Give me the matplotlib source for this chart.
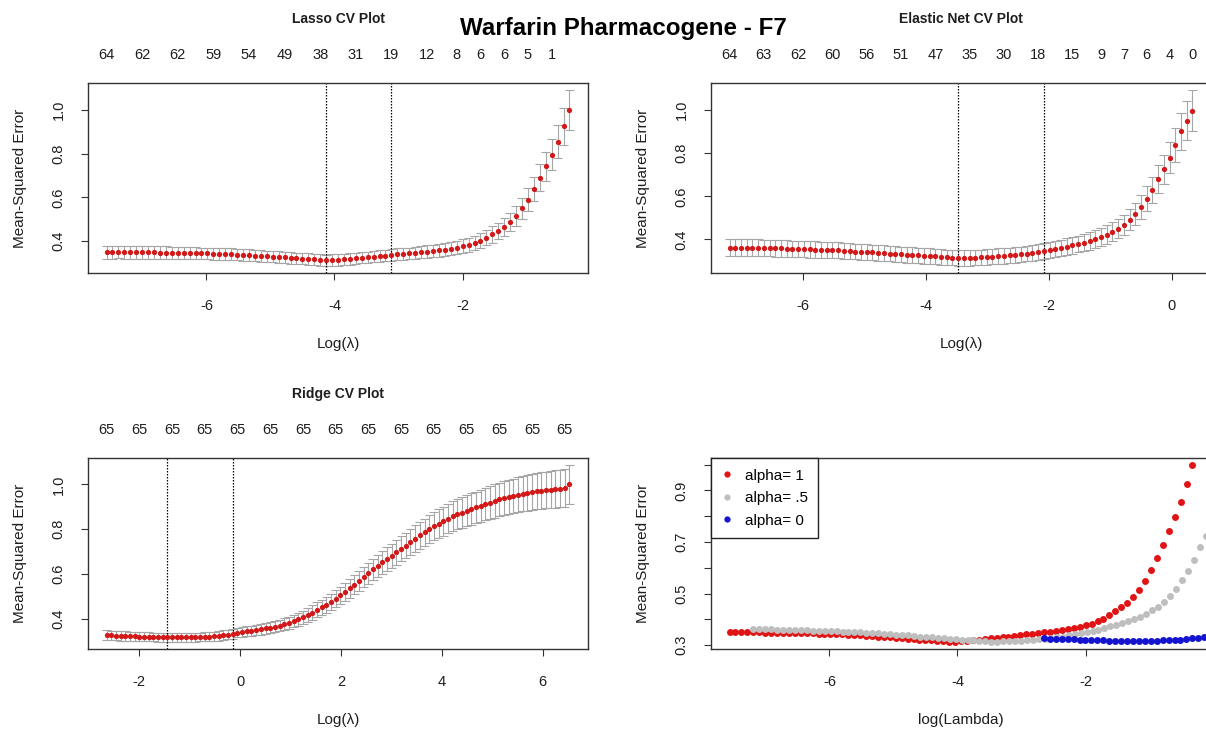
import numpy as np
import matplotlib.pyplot as plt
from matplotlib.ticker import MultipleLocator, FixedLocator, FixedFormatter

plt.rcParams['font.family'] = ['Liberation Sans', 'DejaVu Sans']
plt.rcParams['axes.unicode_minus'] = False

# log(lambda) grids of the three cv fits (glmnet grids are even in log scale)
lasso_loglam = np.linspace(-7.56, -0.33, 79)
enet_loglam = np.linspace(-7.19, 0.34, 82)
ridge_loglam = np.linspace(-2.65, 6.53, 100)

# cross-validated mean-squared error, alpha = 1
lasso_cvm = [0.350, 0.350, 0.351, 0.350, 0.350, 0.350, 0.349, 0.349, 0.349, 0.348,
             0.348, 0.347, 0.347, 0.346, 0.346, 0.345, 0.344, 0.344, 0.343, 0.342,
             0.341, 0.340, 0.339, 0.337, 0.336, 0.334, 0.333, 0.331, 0.330, 0.328,
             0.326, 0.324, 0.322, 0.320, 0.319, 0.317, 0.315, 0.313, 0.314, 0.315,
             0.317, 0.319, 0.322, 0.325, 0.327, 0.330, 0.332, 0.334, 0.336, 0.340,
             0.342, 0.344, 0.347, 0.350, 0.353, 0.356, 0.359, 0.362, 0.366, 0.371,
             0.377, 0.384, 0.393, 0.403, 0.416, 0.431, 0.447, 0.465, 0.488, 0.516,
             0.550, 0.590, 0.638, 0.690, 0.742, 0.795, 0.855, 0.925, 0.998]
lasso_sd = [0.029, 0.029, 0.029, 0.029, 0.029, 0.029, 0.029, 0.029, 0.028, 0.028,
            0.028, 0.028, 0.028, 0.028, 0.028, 0.028, 0.027, 0.027, 0.027, 0.027,
            0.027, 0.027, 0.027, 0.027, 0.027, 0.026, 0.026, 0.026, 0.026, 0.026,
            0.026, 0.026, 0.026, 0.026, 0.026, 0.026, 0.026, 0.026, 0.026, 0.026,
            0.026, 0.026, 0.026, 0.026, 0.026, 0.026, 0.026, 0.026, 0.027, 0.027,
            0.027, 0.027, 0.027, 0.028, 0.028, 0.028, 0.029, 0.029, 0.030, 0.030,
            0.031, 0.032, 0.033, 0.034, 0.035, 0.037, 0.038, 0.040, 0.042, 0.045,
            0.048, 0.052, 0.056, 0.061, 0.066, 0.071, 0.077, 0.084, 0.092]
lasso_nz_idx = [0, 6, 12, 18, 24, 30, 36, 42, 48, 54, 59, 63, 67, 71, 75]
lasso_nz = ['64', '62', '62', '59', '54', '49', '38', '31', '19', '12', '8', '6', '6', '5', '1']

# alpha = 0.5
enet_cvm = [0.362, 0.362, 0.362, 0.362, 0.361, 0.361, 0.360, 0.360, 0.359, 0.358,
            0.357, 0.357, 0.356, 0.355, 0.354, 0.353, 0.352, 0.351, 0.350, 0.349,
            0.347, 0.346, 0.344, 0.343, 0.341, 0.340, 0.338, 0.336, 0.334, 0.333,
            0.331, 0.329, 0.327, 0.326, 0.324, 0.322, 0.321, 0.319, 0.317, 0.316,
            0.313, 0.314, 0.315, 0.316, 0.317, 0.318, 0.320, 0.322, 0.324, 0.326,
            0.328, 0.331, 0.334, 0.338, 0.342, 0.346, 0.351, 0.356, 0.361, 0.367,
            0.373, 0.379, 0.385, 0.393, 0.401, 0.411, 0.422, 0.435, 0.450, 0.468,
            0.492, 0.519, 0.551, 0.589, 0.631, 0.680, 0.725, 0.779, 0.837, 0.901,
            0.951, 0.997]
enet_sd = [0.040, 0.040, 0.040, 0.040, 0.040, 0.039, 0.039, 0.039, 0.039, 0.039,
           0.039, 0.038, 0.038, 0.038, 0.038, 0.038, 0.038, 0.037, 0.037, 0.037,
           0.037, 0.037, 0.037, 0.037, 0.036, 0.036, 0.036, 0.036, 0.036, 0.036,
           0.036, 0.036, 0.036, 0.036, 0.036, 0.036, 0.036, 0.036, 0.036, 0.036,
           0.036, 0.036, 0.036, 0.036, 0.036, 0.036, 0.036, 0.036, 0.036, 0.036,
           0.036, 0.036, 0.036, 0.037, 0.037, 0.037, 0.037, 0.038, 0.038, 0.038,
           0.039, 0.039, 0.040, 0.040, 0.041, 0.042, 0.043, 0.044, 0.045, 0.047,
           0.049, 0.051, 0.054, 0.057, 0.060, 0.064, 0.068, 0.073, 0.079, 0.085,
           0.090, 0.096]
enet_nz_idx = [0, 6, 12, 18, 24, 30, 36, 42, 48, 54, 60, 65, 69, 73, 77, 81]
enet_nz = ['64', '63', '62', '60', '56', '51', '47', '35', '30', '18', '15', '9', '7', '6', '4', '0']

# alpha = 0
ridge_cvm = [0.327, 0.326, 0.325, 0.324, 0.324, 0.323, 0.322, 0.321, 0.321, 0.320,
             0.319, 0.318, 0.318, 0.317, 0.317, 0.317, 0.317, 0.317, 0.318, 0.318,
             0.319, 0.320, 0.321, 0.322, 0.324, 0.327, 0.330, 0.333, 0.338, 0.341,
             0.344, 0.347, 0.350, 0.353, 0.357, 0.361, 0.365, 0.370, 0.376, 0.383,
             0.390, 0.398, 0.406, 0.416, 0.428, 0.440, 0.451, 0.462, 0.474, 0.490,
             0.505, 0.521, 0.537, 0.553, 0.570, 0.587, 0.604, 0.621, 0.637, 0.652,
             0.667, 0.682, 0.697, 0.712, 0.727, 0.742, 0.758, 0.772, 0.786, 0.800,
             0.813, 0.825, 0.836, 0.847, 0.857, 0.866, 0.874, 0.882, 0.890, 0.897,
             0.904, 0.912, 0.919, 0.926, 0.933, 0.939, 0.944, 0.949, 0.954, 0.958,
             0.962, 0.966, 0.969, 0.972, 0.975, 0.977, 0.979, 0.981, 0.983, 1.000]
ridge_sd = [0.021, 0.021, 0.021, 0.021, 0.021, 0.020, 0.020, 0.020, 0.020, 0.020,
            0.020, 0.020, 0.020, 0.020, 0.020, 0.020, 0.020, 0.020, 0.020, 0.020,
            0.020, 0.020, 0.020, 0.020, 0.021, 0.021, 0.021, 0.021, 0.021, 0.022,
            0.022, 0.022, 0.023, 0.023, 0.024, 0.024, 0.025, 0.025, 0.026, 0.027,
            0.028, 0.029, 0.030, 0.031, 0.032, 0.033, 0.034, 0.035, 0.036, 0.038,
            0.039, 0.040, 0.042, 0.043, 0.044, 0.046, 0.047, 0.048, 0.050, 0.051,
            0.052, 0.053, 0.055, 0.056, 0.057, 0.058, 0.059, 0.060, 0.061, 0.062,
            0.063, 0.064, 0.065, 0.066, 0.067, 0.067, 0.068, 0.069, 0.070, 0.071,
            0.071, 0.072, 0.073, 0.074, 0.074, 0.075, 0.076, 0.077, 0.077, 0.078,
            0.079, 0.079, 0.080, 0.081, 0.081, 0.082, 0.083, 0.084, 0.085, 0.086]
ridge_nz_idx = list(range(0, 99, 7))
ridge_nz = ['65'] * 15

W, H = 1206, 732
FS = 10.5
RED = '#d21818'
INK = '#1e1e1e'

fig = plt.figure(figsize=(W / 100, H / 100), dpi=100)


def box(l, t, r, b):
    # pixel box -> figure fraction (right column runs past the cropped edge)
    return [l / W, 1 - b / H, (r - l) / W, (b - t) / H]


def r_style(ax, xlabel):
    for s in ax.spines.values():
        s.set_color('#333333')
        s.set_linewidth(1)
    ax.tick_params(direction='out', length=5, width=0.8, color='#333333',
                   labelsize=FS, labelcolor=INK)
    ax.tick_params(axis='x', pad=14)
    ax.tick_params(axis='y', pad=11)
    for lab in ax.get_yticklabels():
        lab.set_rotation(90)
        lab.set_va('center')
    ax.set_xlabel(xlabel, fontsize=FS + 0.5, color=INK, labelpad=17)
    ax.set_ylabel('Mean-Squared Error', fontsize=FS + 0.5, color=INK, labelpad=18)


def cv_panel(pos, x, cvm, sd, nz_idx, nz, title):
    ax = fig.add_axes(pos)
    cvm = np.asarray(cvm)
    sd = np.asarray(sd)
    up, lo = cvm + sd, cvm - sd
    barw = 0.01 * (x.max() - x.min())
    ax.vlines(x, lo, up, color='#a6a6a6', lw=0.8)
    ax.hlines(up, x - barw, x + barw, color='#a6a6a6', lw=0.8)
    ax.hlines(lo, x - barw, x + barw, color='#a6a6a6', lw=0.8)
    ax.plot(x, cvm, 'o', color=RED, ms=3.8, mec='none', zorder=3)
    # lambda.min and lambda.1se
    imin = int(np.argmin(cvm))
    i1se = int(np.max(np.where(cvm <= cvm[imin] + sd[imin])[0]))
    for i in (imin, i1se):
        ax.axvline(x[i], color='black', lw=0.9, ls=(0, (1.2, 1.2)))
    rx = x.max() - x.min()
    ry = up.max() - lo.min()
    ax.set_xlim(x.min() - 0.04 * rx, x.max() + 0.04 * rx)
    ax.set_ylim(lo.min() - 0.04 * ry, up.max() + 0.04 * ry)
    ax.xaxis.set_major_locator(MultipleLocator(2))
    ax.yaxis.set_major_locator(MultipleLocator(0.2))
    r_style(ax, 'Log(λ)')
    top = ax.secondary_xaxis('top')
    top.set_xticks(x[nz_idx], labels=nz)
    top.tick_params(length=0, pad=15, labelsize=FS, labelcolor=INK)
    top.spines['top'].set_visible(False)
    ax.annotate(title, xy=(0.5, 1), xycoords='axes fraction', xytext=(0, 46),
                textcoords='offset points', ha='center', va='center',
                fontsize=FS - 0.5, fontweight='bold', color=INK)
    return ax


cv_panel(box(88, 83, 588, 273), lasso_loglam, lasso_cvm, lasso_sd,
         lasso_nz_idx, lasso_nz, 'Lasso CV Plot')
cv_panel(box(711, 83, 1211, 273), enet_loglam, enet_cvm, enet_sd,
         enet_nz_idx, enet_nz, 'Elastic Net CV Plot')
cv_panel(box(88, 458, 588, 649), ridge_loglam, ridge_cvm, ridge_sd,
         ridge_nz_idx, ridge_nz, 'Ridge CV Plot')

# all three curves on the lasso scale
ax = fig.add_axes(box(711, 458, 1211, 649))
ax.plot(lasso_loglam, lasso_cvm, 'o', color='#e01414', ms=5, mec='none', label='alpha= 1')
ax.plot(enet_loglam, enet_cvm, 'o', color='#bebebe', ms=5, mec='none', label='alpha= .5')
ax.plot(ridge_loglam, ridge_cvm, 'o', color='#1414d0', ms=5, mec='none', label='alpha= 0')
lc = np.asarray(lasso_cvm)
rx = lasso_loglam.max() - lasso_loglam.min()
ry = lc.max() - lc.min()
ax.set_xlim(lasso_loglam.min() - 0.04 * rx, lasso_loglam.max() + 0.04 * rx)
ax.set_ylim(lc.min() - 0.04 * ry, lc.max() + 0.04 * ry)
ax.xaxis.set_major_locator(MultipleLocator(2))
yt = [0.3, 0.4, 0.5, 0.6, 0.7, 0.8, 0.9, 1.0]
ax.yaxis.set_major_locator(FixedLocator(yt))
ax.yaxis.set_major_formatter(FixedFormatter(['0.3', '', '0.5', '', '0.7', '', '0.9', '']))
r_style(ax, 'log(Lambda)')
leg = ax.legend(loc='upper left', bbox_to_anchor=(0, 1), borderaxespad=0, fancybox=False,
                edgecolor='#222222', framealpha=1, fontsize=FS + 0.5, handlelength=0.7,
                handletextpad=0.8, borderpad=0.7, labelspacing=0.55, markerscale=0.9)
leg.get_frame().set_linewidth(1)

fig.text(623 / W, 1 - 28 / H, 'Warfarin Pharmacogene - F7', ha='center', va='center',
         fontsize=17.4, fontweight='bold', color='black')

fig.savefig('out.png', dpi=100)
